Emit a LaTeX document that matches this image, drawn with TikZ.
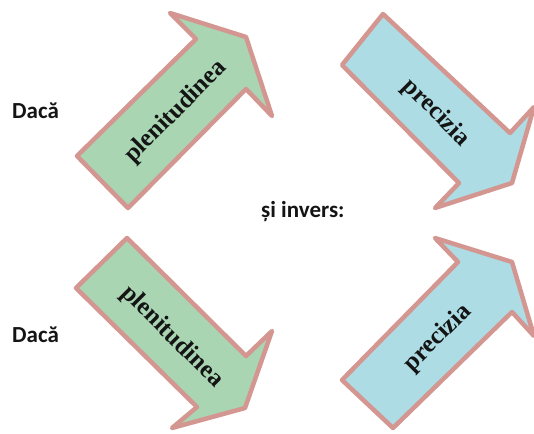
\documentclass[tikz,border=0pt]{standalone}
\usepackage{fontspec}
\setmainfont{Liberation Serif}
\newfontfamily\labelfont{Carlito}
\definecolor{arrgreen}{RGB}{169,213,179}
\definecolor{arrblue}{RGB}{173,220,228}
\definecolor{arrborder}{RGB}{212,150,144}
\definecolor{txtdark}{RGB}{20,20,20}
\begin{document}
\begin{tikzpicture}[x=1pt,y=-1pt,
  blockarrow/.style={draw=arrborder,line width=4.5pt,line join=round},
  greenarrow/.style={blockarrow,fill=arrgreen},
  bluearrow/.style={blockarrow,fill=arrblue},
  arrowtext/.style={font=\bfseries\fontsize{25}{30}\selectfont,text=txtdark,inner sep=0pt},
  sidelabel/.style={font=\labelfont\bfseries\fontsize{23}{27}\selectfont,text=txtdark,inner sep=0pt}]
\useasboundingbox (0,0) rectangle (534,433);
% top left arrow (up-right)
\path[greenarrow] (128,208) -- (77,156) -- (196,39) -- (170,13) -- (246,37) -- (272,116) -- (246,89) -- cycle;
% top right arrow (down-right)
\path[bluearrow] (383,14) -- (342,65) -- (459,183) -- (435,208) -- (512,183) -- (534,107) -- (510,133) -- cycle;
% bottom left arrow (down-right)
\path[greenarrow] (127,238) -- (76,288) -- (197,407) -- (172,428) -- (245,408) -- (272,331) -- (246,356) -- cycle;
% bottom right arrow (up-right)
\path[bluearrow] (393,428) -- (342,380) -- (458,262) -- (435,238) -- (512,262) -- (534,336) -- (512,312) -- cycle;
% texts
\node[arrowtext,rotate=45] (t1) at (176,112) {plenitudinea};
\node[arrowtext,rotate=-45] (t2) at (436,113) {precizia};
\node[arrowtext,rotate=-45] (t3) at (172,337) {plenitudinea};
\node[arrowtext,rotate=45] (t4) at (438,338) {precizia};
\node[sidelabel,anchor=base west] (d1) at (12,118) {Dacă};
\node[sidelabel,anchor=base west] (d2) at (12,342) {Dacă};
\node[sidelabel,anchor=base west] (inv) at (261,217) {și invers:};
\end{tikzpicture}
\end{document}
